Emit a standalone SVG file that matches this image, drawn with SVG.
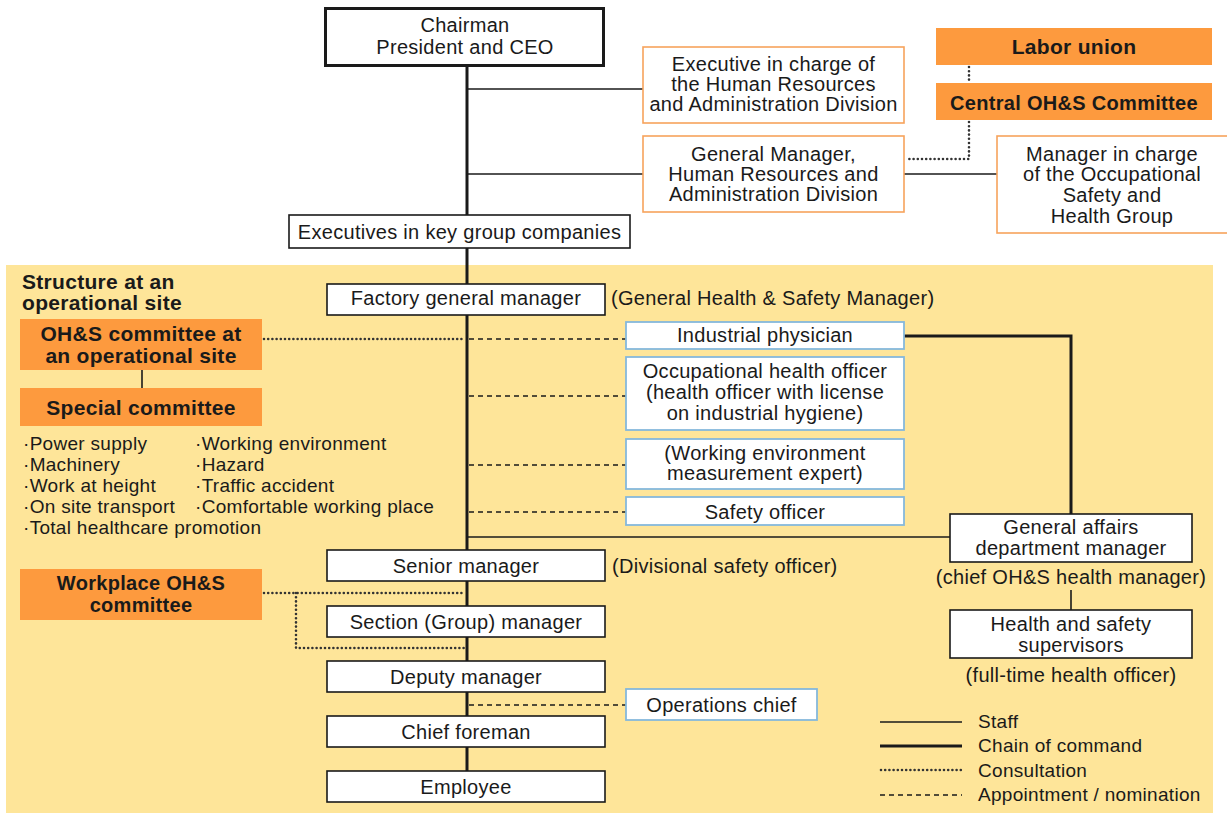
<svg xmlns="http://www.w3.org/2000/svg" width="1227" height="815" viewBox="0 0 1227 815">
<style>
text{font-family:"Liberation Sans",Arial,sans-serif;font-size:20px;letter-spacing:0.3px;fill:#1a1a1a;}
.c{text-anchor:middle;}
.b{font-weight:bold;}
.b21{font-weight:bold;font-size:21px;}
.s{font-size:19px;}
.bk{fill:#fff;stroke:#1a1a1a;stroke-width:1.6;}
.bk3{fill:#fff;stroke:#1a1a1a;stroke-width:3;}
.or{fill:#fff;stroke:#f7a35c;stroke-width:1.6;}
.bl{fill:#fff;stroke:#85b8dc;stroke-width:1.8;}
.of{fill:#fd9a3e;stroke:none;}
.staff{stroke:#1a1a1a;stroke-width:1.6;fill:none;}
.cmd{stroke:#1a1a1a;stroke-width:3;fill:none;}
.dot{stroke:#333;stroke-width:2.6;stroke-dasharray:0 4.2;stroke-linecap:round;fill:none;}
.dash{stroke:#1a1a1a;stroke-width:1.3;stroke-dasharray:5 4;fill:none;}
</style>
<rect x="6" y="265" width="1207" height="548" fill="#fee599"/>
<g id="connectors">
<line class="cmd" x1="467" y1="66" x2="467" y2="772"/>
<line class="staff" x1="467" y1="89" x2="643" y2="89"/>
<line class="staff" x1="467" y1="174" x2="643" y2="174"/>
<line class="staff" x1="904" y1="174" x2="997" y2="174"/>
<line class="dot" x1="969" y1="67" x2="969" y2="82"/>
<polyline class="dot" points="969,122 969,159 906,159"/>
<line class="dot" x1="264" y1="339" x2="464" y2="339"/>
<line class="dash" x1="469" y1="339" x2="626" y2="339"/>
<line class="dash" x1="469" y1="396" x2="626" y2="396"/>
<line class="dash" x1="469" y1="465" x2="626" y2="465"/>
<line class="dash" x1="469" y1="512" x2="626" y2="512"/>
<line class="dash" x1="469" y1="705" x2="626" y2="705"/>
<polyline class="cmd" points="904,336 1071,336 1071,514"/>
<line class="staff" x1="467" y1="537" x2="950" y2="537"/>
<line class="staff" x1="1071" y1="590" x2="1071" y2="610"/>
<line class="staff" x1="142" y1="370" x2="142" y2="388"/>
<line class="dot" x1="264" y1="593" x2="464" y2="593"/>
<polyline class="dot" points="296,593 296,648 464,648"/>
</g>
<g id="chairman"><rect class="bk3" x="325.5" y="8.5" width="278" height="57"/><text class="c" x="465" y="32">Chairman</text><text class="c" x="465" y="54">President and CEO</text></g>
<g id="exec-hr"><rect class="or" x="643" y="47" width="261" height="76"/><text class="c" x="773.5" y="71">Executive in charge of</text><text class="c" x="773.5" y="91">the Human Resources</text><text class="c" x="773.5" y="111">and Administration Division</text></g>
<g id="gm-hr"><rect class="or" x="643" y="136" width="261" height="76"/><text class="c" x="773.5" y="161">General Manager,</text><text class="c" x="773.5" y="181">Human Resources and</text><text class="c" x="773.5" y="201">Administration Division</text></g>
<g id="labor-union"><rect class="of" x="936" y="28" width="276" height="37"/><text class="c b21" x="1074" y="54">Labor union</text></g>
<g id="central-ohs"><rect class="of" x="936" y="83" width="276" height="37"/><text class="c b" x="1074" y="110">Central OH&amp;S Committee</text></g>
<g id="mgr-osh"><rect class="or" x="997" y="136" width="235" height="97"/><text class="c" x="1112" y="161">Manager in charge</text><text class="c" x="1112" y="181">of the Occupational</text><text class="c" x="1112" y="202">Safety and</text><text class="c" x="1112" y="223">Health Group</text></g>
<g id="exec-group"><rect class="bk" x="289" y="215" width="341" height="33"/><text class="c" x="459.5" y="239">Executives in key group companies</text></g>
<g id="site-title"><text class="b21" x="22" y="289">Structure at an</text><text class="b21" x="22" y="310">operational site</text></g>
<g id="factory-gm"><rect class="bk" x="327" y="284" width="278" height="31"/><text class="c" x="466" y="305">Factory general manager</text><text x="611" y="305">(General Health &amp; Safety Manager)</text></g>
<g id="ohs-site"><rect class="of" x="20" y="319" width="242" height="51"/><text class="c b21" x="141" y="341">OH&amp;S committee at</text><text class="c b21" x="141" y="363">an operational site</text></g>
<g id="special"><rect class="of" x="20" y="388" width="242" height="38"/><text class="c b21" x="141" y="415">Special committee</text></g>
<g id="special-list">
<text class="s" x="23" y="450">·Power supply</text><text class="s" x="23" y="471">·Machinery</text><text class="s" x="23" y="492">·Work at height</text><text class="s" x="23" y="513">·On site transport</text><text class="s" x="23" y="534">·Total healthcare promotion</text>
<text class="s" x="195" y="450">·Working environment</text><text class="s" x="195" y="471">·Hazard</text><text class="s" x="195" y="492">·Traffic accident</text><text class="s" x="195" y="513">·Comfortable working place</text>
</g>
<g id="physician"><rect class="bl" x="626" y="322" width="278" height="27"/><text class="c" x="765" y="342">Industrial physician</text></g>
<g id="occ-health"><rect class="bl" x="626" y="357" width="278" height="73"/><text class="c" x="765" y="378">Occupational health officer</text><text class="c" x="765" y="399">(health officer with license</text><text class="c" x="765" y="420">on industrial hygiene)</text></g>
<g id="work-env"><rect class="bl" x="626" y="439" width="278" height="50"/><text class="c" x="765" y="460">(Working environment</text><text class="c" x="765" y="480">measurement expert)</text></g>
<g id="safety-officer"><rect class="bl" x="626" y="497" width="278" height="28"/><text class="c" x="765" y="519">Safety officer</text></g>
<g id="general-affairs"><rect class="bk" x="950" y="514" width="242" height="48"/><text class="c" x="1071" y="534">General affairs</text><text class="c" x="1071" y="555">department manager</text><text class="c" x="1071" y="584">(chief OH&amp;S health manager)</text></g>
<g id="hs-supervisors"><rect class="bk" x="950" y="610" width="242" height="48"/><text class="c" x="1071" y="631">Health and safety</text><text class="c" x="1071" y="652">supervisors</text><text class="c" x="1071" y="682">(full-time health officer)</text></g>
<g id="senior-mgr"><rect class="bk" x="327" y="550" width="278" height="31"/><text class="c" x="466" y="573">Senior manager</text><text x="612" y="573">(Divisional safety officer)</text></g>
<g id="workplace-ohs"><rect class="of" x="20" y="569" width="242" height="51"/><text class="c b" x="141" y="590">Workplace OH&amp;S</text><text class="c b" x="141" y="612">committee</text></g>
<g id="section-mgr"><rect class="bk" x="327" y="606" width="278" height="31"/><text class="c" x="466" y="629">Section (Group) manager</text></g>
<g id="deputy-mgr"><rect class="bk" x="327" y="661" width="278" height="31"/><text class="c" x="466" y="684">Deputy manager</text></g>
<g id="ops-chief"><rect class="bl" x="626" y="689" width="191" height="31"/><text class="c" x="721.5" y="712">Operations chief</text></g>
<g id="chief-foreman"><rect class="bk" x="327" y="716" width="278" height="31"/><text class="c" x="466" y="739">Chief foreman</text></g>
<g id="employee"><rect class="bk" x="327" y="771" width="278" height="31"/><text class="c" x="466" y="794">Employee</text></g>
<g id="legend">
<line class="staff" x1="880" y1="722" x2="962" y2="722"/>
<line class="cmd" x1="880" y1="746" x2="962" y2="746"/>
<line class="dot" x1="881" y1="770" x2="962" y2="770"/>
<line class="dash" x1="880" y1="795" x2="962" y2="795"/>
<text class="s" x="978" y="728">Staff</text>
<text class="s" x="978" y="752">Chain of command</text>
<text class="s" x="978" y="777">Consultation</text>
<text class="s" x="978" y="801">Appointment / nomination</text>
</g>
</svg>
